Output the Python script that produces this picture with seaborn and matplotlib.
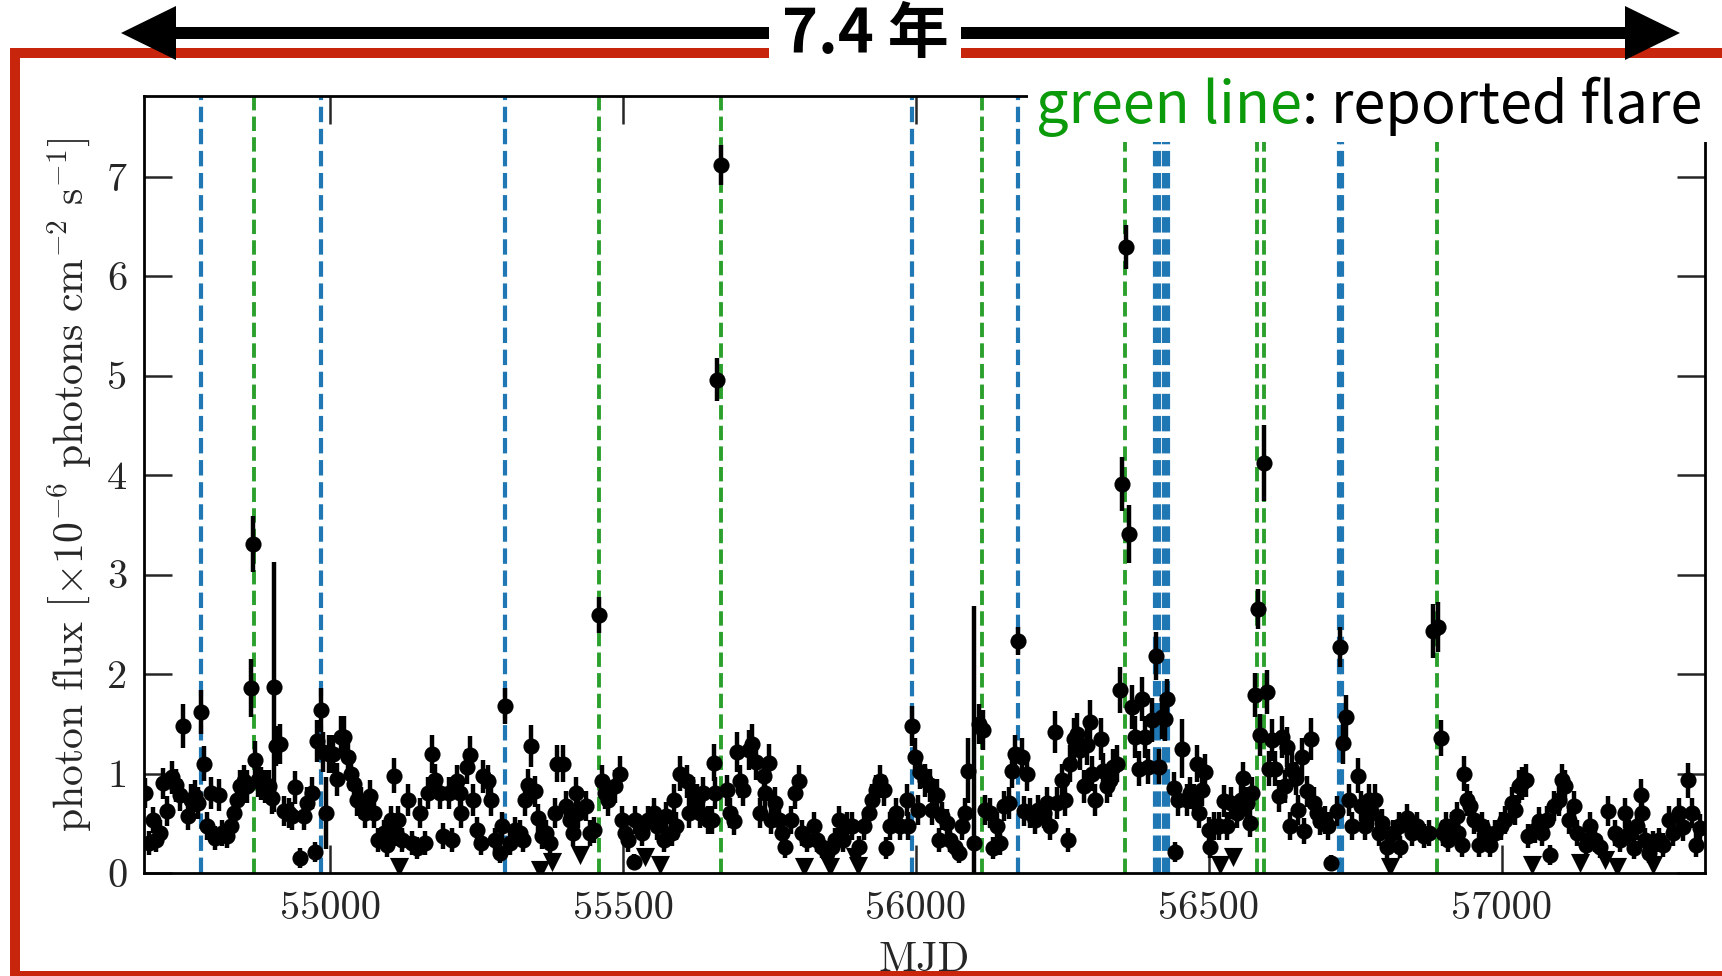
import matplotlib
matplotlib.use("Agg")
import matplotlib.pyplot as plt
import seaborn as sns
import pandas as pd
from matplotlib.patches import Polygon, Rectangle

sns.set_style("ticks")
plt.rcParams.update({
    "font.family": "serif",
    "font.serif": ["cmr10"],
    "mathtext.fontset": "cm",
    "axes.unicode_minus": False,
    "axes.formatter.use_mathtext": True,
})

# ---- weekly gamma-ray light curve: MJD, photon flux (1e-6 ph/cm2/s), 1-sigma error ----
mjd_a = [54684, 54690, 54697, 54703, 54710, 54715, 54722, 54729, 54736, 54743,
         54749, 54757, 54762, 54769, 54775, 54779, 54785, 54790, 54796, 54804,
         54810, 54816, 54824, 54830, 54836, 54841, 54846, 54852, 54858, 54864,
         54868, 54872, 54877, 54882, 54889, 54895, 54900, 54904, 54908, 54915,
         54921, 54929, 54935, 54940, 54949, 54955, 54961, 54969, 54974, 54978,
         54984, 54988, 54992, 54998, 55004, 55011, 55019, 55024, 55030, 55035,
         55040, 55046, 55052, 55060, 55067, 55074, 55082, 55091, 55097, 55103,
         55108, 55113]
flux_a = [0.80, 0.30, 0.53, 0.33, 0.40, 0.90, 0.62, 0.96, 0.88, 0.78,
          1.48, 0.57, 0.73, 0.77, 0.70, 1.62, 1.10, 0.47, 0.80, 0.35,
          0.78, 0.40, 0.37, 0.47, 0.60, 0.73, 0.87, 0.92, 0.87, 1.86,
          3.31, 1.14, 0.93, 0.90, 0.87, 0.87, 0.75, 1.87, 1.28, 1.30,
          0.62, 0.60, 0.57, 0.86, 0.15, 0.57, 0.70, 0.80, 0.21, 1.33,
          1.64, 1.22, 0.60, 1.20, 1.20, 0.94, 1.37, 1.37, 1.17, 1.00,
          0.89, 0.73, 0.70, 0.60, 0.77, 0.60, 0.33, 0.40, 0.28, 0.53,
          0.98, 0.40]
err_a = [0.15, 0.12, 0.13, 0.12, 0.13, 0.16, 0.15, 0.17, 0.17, 0.16,
         0.22, 0.14, 0.16, 0.16, 0.16, 0.22, 0.18, 0.14, 0.16, 0.12,
         0.16, 0.13, 0.12, 0.14, 0.15, 0.16, 0.17, 0.17, 0.17, 0.29,
         0.28, 0.19, 0.17, 0.17, 0.17, 0.17, 0.16, 1.26, 0.20, 0.20,
         0.15, 0.15, 0.14, 0.17, 0.10, 0.14, 0.16, 0.16, 0.10, 0.21,
         0.22, 0.20, 0.36, 0.19, 0.19, 0.17, 0.21, 0.21, 0.19, 0.18,
         0.17, 0.16, 0.16, 0.15, 0.16, 0.15, 0.12, 0.13, 0.12, 0.14,
         0.18, 0.13]

mjd_b = [55116, 55122, 55133, 55139, 55148, 55153, 55162, 55167, 55174, 55179,
         55187, 55193, 55202, 55207, 55216, 55221, 55224, 55233, 55238, 55244,
         55250, 55257, 55261, 55270, 55274, 55281, 55290, 55294, 55299, 55307,
         55315, 55324, 55329, 55333, 55338, 55342, 55349, 55355, 55361, 55369,
         55375, 55383, 55387, 55398, 55403, 55409, 55415, 55420, 55423, 55437,
         55443, 55451, 55459, 55464, 55469, 55475, 55486, 55495, 55498, 55504,
         55509, 55518, 55521, 55532, 55543]
flux_b = [0.53, 0.33, 0.73, 0.30, 0.25, 0.60, 0.30, 0.80, 1.20, 0.93,
          0.80, 0.37, 0.80, 0.33, 0.92, 0.80, 0.60, 1.07, 1.19, 0.73,
          0.43, 0.30, 0.97, 0.92, 0.73, 0.33, 0.20, 0.47, 1.68, 0.30,
          0.43, 0.40, 0.33, 0.73, 0.88, 1.28, 0.82, 0.55, 0.37, 0.40,
          0.30, 0.60, 1.10, 1.10, 0.67, 0.53, 0.40, 0.80, 0.60, 0.67,
          0.40, 0.43, 2.59, 0.92, 0.80, 0.73, 0.87, 1.00, 0.53, 0.40,
          0.33, 0.11, 0.53, 0.40, 0.53]
err_b = [0.14, 0.12, 0.16, 0.12, 0.11, 0.15, 0.12, 0.16, 0.19, 0.17,
         0.16, 0.13, 0.16, 0.12, 0.17, 0.16, 0.15, 0.18, 0.19, 0.16,
         0.13, 0.12, 0.17, 0.17, 0.16, 0.12, 0.10, 0.14, 0.18, 0.12,
         0.13, 0.13, 0.12, 0.16, 0.17, 0.21, 0.16, 0.14, 0.13, 0.13,
         0.12, 0.15, 0.19, 0.19, 0.15, 0.14, 0.13, 0.16, 0.15, 0.15,
         0.13, 0.13, 0.18, 0.17, 0.16, 0.16, 0.17, 0.18, 0.14, 0.13,
         0.12, 0.08, 0.14, 0.13, 0.14]

mjd_c = [55552, 55557, 55569, 55574, 55583, 55587, 55591, 55597, 55609, 55612,
         55620, 55626, 55632, 55637, 55645, 55651, 55655, 55657, 55661, 55667,
         55678, 55683, 55689, 55694, 55700, 55705, 55715, 55720, 55726, 55734,
         55740, 55743, 55749, 55752, 55760, 55766, 55772, 55777, 55786, 55794,
         55800, 55805, 55814, 55825, 55831, 55840, 55848, 55857, 55862, 55868,
         55876, 55882, 55891, 55902, 55911, 55919, 55925, 55931, 55939, 55945,
         55948, 55956, 55965, 55973, 55984]
flux_c = [0.60, 0.47, 0.33, 0.57, 0.40, 0.73, 0.47, 1.00, 0.92, 0.60,
          0.80, 0.73, 0.60, 0.80, 0.53, 0.53, 1.11, 0.80, 4.96, 7.12,
          0.83, 0.60, 0.52, 1.22, 0.92, 0.83, 1.24, 1.30, 1.12, 0.60,
          0.97, 0.80, 1.11, 0.53, 0.70, 0.53, 0.40, 0.26, 0.53, 0.80,
          0.92, 0.40, 0.33, 0.47, 0.33, 0.26, 0.20, 0.26, 0.33, 0.53,
          0.33, 0.47, 0.47, 0.26, 0.47, 0.60, 0.73, 0.83, 0.92, 0.83,
          0.25, 0.47, 0.60, 0.47, 0.73]
err_c = [0.15, 0.14, 0.12, 0.14, 0.13, 0.16, 0.14, 0.18, 0.17, 0.15,
         0.16, 0.16, 0.15, 0.16, 0.14, 0.14, 0.19, 0.16, 0.22, 0.20,
         0.16, 0.15, 0.14, 0.20, 0.17, 0.16, 0.20, 0.20, 0.19, 0.15,
         0.17, 0.16, 0.19, 0.14, 0.16, 0.14, 0.13, 0.11, 0.14, 0.16,
         0.17, 0.13, 0.12, 0.14, 0.12, 0.11, 0.10, 0.11, 0.12, 0.14,
         0.12, 0.14, 0.14, 0.11, 0.14, 0.15, 0.16, 0.16, 0.17, 0.16,
         0.11, 0.14, 0.15, 0.14, 0.16]

mjd_d = [55987, 55994, 55999, 56004, 56007, 56016, 56024, 56027, 56036, 56039,
         56044, 56053, 56058, 56067, 56073, 56078, 56084, 56089, 56107, 56114,
         56118, 56127, 56131, 56138, 56144, 56150, 56158, 56164, 56169, 56174,
         56181, 56184, 56189, 56195, 56204, 56209, 56218, 56224, 56229, 56238,
         56240, 56249, 56255, 56259, 56263, 56269, 56275, 56280, 56286, 56292,
         56297, 56300, 56306, 56315, 56320, 56326, 56332, 56337, 56343, 56349,
         56352, 56358, 56364, 56369, 56374, 56380, 56385, 56391, 56396, 56403,
         56410, 56414, 56420]
flux_d = [0.47, 1.48, 1.17, 0.63, 1.02, 0.93, 0.88, 0.63, 0.78, 0.33,
          0.57, 0.50, 0.33, 0.26, 0.20, 0.47, 0.60, 1.03, 1.50, 1.44,
          0.63, 0.60, 0.25, 0.47, 0.30, 0.67, 0.70, 1.03, 1.20, 2.33,
          1.17, 0.62, 1.00, 0.60, 0.53, 0.63, 0.60, 0.70, 0.47, 1.42,
          0.70, 0.93, 0.73, 0.33, 1.10, 1.35, 1.40, 1.24, 0.87, 1.29,
          1.52, 1.00, 0.73, 1.35, 1.03, 0.87, 0.93, 1.07, 1.10, 1.84,
          3.91, 6.29, 3.41, 1.67, 1.37, 1.05, 1.75, 1.37, 1.07, 1.54,
          2.18, 1.07, 1.57]
err_d = [0.14, 0.20, 0.19, 0.15, 0.18, 0.17, 0.17, 0.15, 0.16, 0.12,
         0.14, 0.14, 0.12, 0.11, 0.10, 0.14, 0.15, 0.33, 0.20, 0.20,
         0.15, 0.15, 0.11, 0.14, 0.12, 0.15, 0.16, 0.18, 0.19, 0.14,
         0.19, 0.15, 0.18, 0.15, 0.14, 0.15, 0.15, 0.16, 0.14, 0.21,
         0.16, 0.17, 0.16, 0.12, 0.19, 0.21, 0.21, 0.20, 0.17, 0.20,
         0.22, 0.18, 0.16, 0.21, 0.18, 0.17, 0.17, 0.18, 0.19, 0.23,
         0.27, 0.22, 0.29, 0.22, 0.21, 0.18, 0.22, 0.21, 0.18, 0.22,
         0.24, 0.18, 0.22]

mjd_e = [56425, 56429, 56440, 56443, 56448, 56454, 56462, 56468, 56474, 56480,
         56483, 56488, 56494, 56500, 56502, 56508, 56517, 56525, 56531, 56537,
         56548, 56554, 56559, 56565, 56570, 56574, 56579, 56584, 56588, 56594,
         56599, 56602, 56608, 56613, 56619, 56625, 56630, 56633, 56639, 56642,
         56648, 56653, 56659, 56662, 56667, 56674, 56679, 56685, 56690, 56699,
         56704, 56708, 56719, 56724, 56729, 56734, 56739, 56744, 56754, 56759,
         56767, 56773, 56778, 56784, 56790, 56795, 56804, 56815, 56824, 56827,
         56838, 56847, 56855]
flux_e = [1.55, 1.75, 0.85, 0.21, 0.73, 1.25, 0.73, 0.80, 0.73, 1.10,
          0.60, 0.83, 1.02, 0.43, 0.26, 0.47, 0.47, 0.72, 0.47, 0.70,
          0.60, 0.73, 0.95, 0.70, 0.50, 0.80, 1.79, 2.65, 1.39, 4.12,
          1.82, 1.05, 1.34, 1.05, 0.77, 1.37, 0.87, 1.27, 0.47, 1.04,
          0.95, 0.63, 1.17, 0.42, 0.82, 1.35, 0.70, 0.60, 0.52, 0.53,
          0.47, 0.10, 0.62, 2.27, 1.31, 1.57, 0.73, 0.47, 0.98, 0.67,
          0.47, 0.73, 0.60, 0.73, 0.40, 0.50, 0.26, 0.40, 0.47, 0.26,
          0.55, 0.40, 0.47]
err_e = [0.22, 0.20, 0.17, 0.10, 0.16, 0.30, 0.16, 0.16, 0.16, 0.19,
         0.15, 0.16, 0.18, 0.13, 0.11, 0.14, 0.14, 0.16, 0.14, 0.16,
         0.15, 0.16, 0.17, 0.16, 0.14, 0.16, 0.22, 0.20, 0.21, 0.38,
         0.22, 0.18, 0.21, 0.18, 0.16, 0.21, 0.17, 0.20, 0.14, 0.18,
         0.17, 0.15, 0.19, 0.13, 0.16, 0.21, 0.16, 0.15, 0.14, 0.14,
         0.14, 0.08, 0.15, 0.20, 0.21, 0.22, 0.16, 0.14, 0.18, 0.15,
         0.14, 0.16, 0.15, 0.16, 0.13, 0.14, 0.11, 0.13, 0.14, 0.11,
         0.14, 0.13, 0.14]

mjd_f = [56867, 56875, 56882, 56891, 56896, 56900, 56904, 56909, 56915, 56924,
         56926, 56932, 56935, 56941, 56946, 56952, 56961, 56966, 56975, 56980,
         56989, 56998, 57006, 57017, 57023, 57029, 57034, 57041, 57045, 57057,
         57063, 57069, 57077, 57083, 57089, 57097, 57103, 57108, 57114, 57123,
         57128, 57143, 57151, 57160, 57168, 57182, 57194, 57202, 57211, 57217,
         57225, 57231, 57237, 57239, 57245, 57251, 57259, 57268, 57276, 57285,
         57293, 57302, 57309, 57318, 57325, 57332, 57339]
flux_f = [0.37, 0.40, 2.43, 2.47, 1.36, 0.40, 0.47, 0.33, 0.47, 0.57,
          0.40, 0.28, 1.00, 0.73, 0.67, 0.53, 0.28, 0.47, 0.40, 0.28,
          0.40, 0.47, 0.53, 0.70, 0.63, 0.87, 0.90, 0.93, 0.37, 0.43,
          0.52, 0.40, 0.53, 0.18, 0.67, 0.73, 0.93, 0.87, 0.53, 0.67,
          0.40, 0.28, 0.47, 0.33, 0.26, 0.62, 0.40, 0.33, 0.60, 0.40,
          0.25, 0.47, 0.78, 0.60, 0.33, 0.20, 0.30, 0.33, 0.28, 0.53,
          0.40, 0.60, 0.46, 0.93, 0.60, 0.28, 0.45]
err_f = [0.12, 0.13, 0.27, 0.25, 0.18, 0.13, 0.14, 0.12, 0.14, 0.14,
         0.13, 0.12, 0.18, 0.16, 0.15, 0.14, 0.12, 0.14, 0.13, 0.12,
         0.13, 0.14, 0.14, 0.16, 0.15, 0.17, 0.17, 0.17, 0.12, 0.13,
         0.14, 0.13, 0.14, 0.10, 0.15, 0.16, 0.17, 0.17, 0.14, 0.15,
         0.13, 0.12, 0.14, 0.12, 0.11, 0.15, 0.13, 0.12, 0.15, 0.13,
         0.11, 0.14, 0.16, 0.15, 0.12, 0.10, 0.12, 0.12, 0.12, 0.14,
         0.13, 0.15, 0.14, 0.18, 0.15, 0.12, 0.14]

# bin with a strongly asymmetric uncertainty
asym_mjd = [56099]
asym_flux = [0.30]
asym_err_lo = [0.30]
asym_err_hi = [2.38]

# bins with upper limits only
ul_mjd = [55118, 55358, 55378, 55426, 55537, 55563, 55808, 55854, 55896,
          55901, 56519, 56542, 56810, 57052, 57134, 57177, 57197, 57258]
ul_flux = [0.06, 0.03, 0.11, 0.18, 0.16, 0.08, 0.06, 0.06, 0.16,
           0.07, 0.08, 0.16, 0.06, 0.08, 0.10, 0.13, 0.06, 0.08]

# flare epochs: detected (blue) and reported in the literature (green)
detected_flares = [54779, 54984, 55299, 55993, 56174, 56408, 56415, 56423,
                   56430, 56723, 56727]
reported_flares = [54869, 55459, 55667, 56112, 56357, 56582, 56594, 56889]

xticks = [55000, 55500, 56000, 56500, 57000]
xtick_labels = ["55000", "55500", "56000", "56500", "57000"]
yticks = [0, 1, 2, 3, 4, 5, 6, 7]

lc = pd.DataFrame({
    "MJD": mjd_a + mjd_b + mjd_c + mjd_d + mjd_e + mjd_f,
    "flux": flux_a + flux_b + flux_c + flux_d + flux_e + flux_f,
    "err": err_a + err_b + err_c + err_d + err_e + err_f,
})

# ---- figure ----
W, H = 1722, 976


def fx(px):
    return px / W


def fy(py):
    return 1 - py / H


fig = plt.figure(figsize=(W / 100, H / 100), dpi=100, facecolor="white")
ax = fig.add_axes([fx(144), fy(873), (1705 - 144) / W, (873 - 96) / H])

dash = (0, (3.7, 1.6))
for m in detected_flares:
    ax.axvline(m, color="#1f77b4", ls=dash, lw=3.0, zorder=1)
for m in reported_flares:
    ax.axvline(m, color="#2ca02c", ls=dash, lw=2.8, zorder=1)

ax.errorbar(lc["MJD"], lc["flux"], yerr=lc["err"], fmt="none", ecolor="black",
            elinewidth=3.2, capsize=0, zorder=2)
ax.errorbar(asym_mjd, asym_flux, yerr=[asym_err_lo, asym_err_hi], fmt="none",
            ecolor="black", elinewidth=3.2, capsize=0, zorder=2)
sns.scatterplot(data=lc, x="MJD", y="flux", ax=ax, color="black", s=135,
                linewidth=0, zorder=3, legend=False)
sns.scatterplot(x=asym_mjd, y=asym_flux, ax=ax, color="black", s=135,
                linewidth=0, zorder=3, legend=False)
sns.scatterplot(x=ul_mjd, y=ul_flux, ax=ax, color="black", s=190, marker="v",
                linewidth=0, zorder=3, legend=False)

ax.set_xlim(54682, 57347)
ax.set_ylim(0, 7.81)
ax.set_xticks(xticks)
ax.set_xticklabels(xtick_labels)
ax.set_yticks(yticks)
ax.set_yticklabels([str(v) for v in yticks])
ax.tick_params(direction="in", length=20, width=1.8, top=True, right=True,
               labelsize=29)
ax.tick_params(axis="x", pad=13)
ax.tick_params(axis="y", pad=12)
for sp in ax.spines.values():
    sp.set_linewidth(2.0)
    sp.set_color("black")

ax.set_xlabel("MJD", fontsize=30)
ax.xaxis.set_label_coords(0.5, -0.088)
ax.set_ylabel(r"photon flux $\left[\times 10^{-6}\ \mathrm{photons\ cm^{-2}\ s^{-1}}\right]$",
              fontsize=30)
ax.yaxis.set_label_coords(-0.032, 0.5)

# ---- annotation layer ----
red = "#C8260C"
frame = Rectangle((fx(15), fy(976)), (1800 - 15) / W, (976 - 53) / H,
                  transform=fig.transFigure, fill=False, edgecolor=red,
                  linewidth=7.2, zorder=4, clip_on=False)
fig.add_artist(frame)

arrow_px = [(121, 33), (176, 6), (176, 27), (1625, 27), (1625, 6), (1680, 33),
            (1625, 60), (1625, 39), (176, 39), (176, 60)]
arrow = Polygon([(fx(x), fy(y)) for x, y in arrow_px], closed=True,
                transform=fig.transFigure, facecolor="black", edgecolor="none",
                zorder=5)
fig.add_artist(arrow)

fig.add_artist(Rectangle((fx(769), fy(68)), (961 - 769) / W, 68 / H,
                         transform=fig.transFigure, facecolor="white",
                         edgecolor="none", zorder=6))
cjk = ["Noto Sans CJK JP", "DejaVu Sans"]
fig.text(fx(865), fy(35), "7.4 年", ha="center", va="center", fontsize=44,
         fontweight="bold", family=cjk, color="black", zorder=7)

fig.add_artist(Rectangle((fx(1028), fy(142)), (1722 - 1028) / W, (142 - 60) / H,
                         transform=fig.transFigure, facecolor="white",
                         edgecolor="none", zorder=6))
t1 = fig.text(fx(1036), fy(123), "green line", color="#0A9A0A", fontsize=41.5,
              family=cjk, va="baseline", ha="left", zorder=7)
renderer = fig.canvas.get_renderer()
bb = t1.get_window_extent(renderer)
fig.text(bb.x1 / W, fy(123), ": reported flare", color="black", fontsize=41.5,
         family=cjk, va="baseline", ha="left", zorder=7)

fig.savefig("out.png", dpi=100, facecolor="white")
